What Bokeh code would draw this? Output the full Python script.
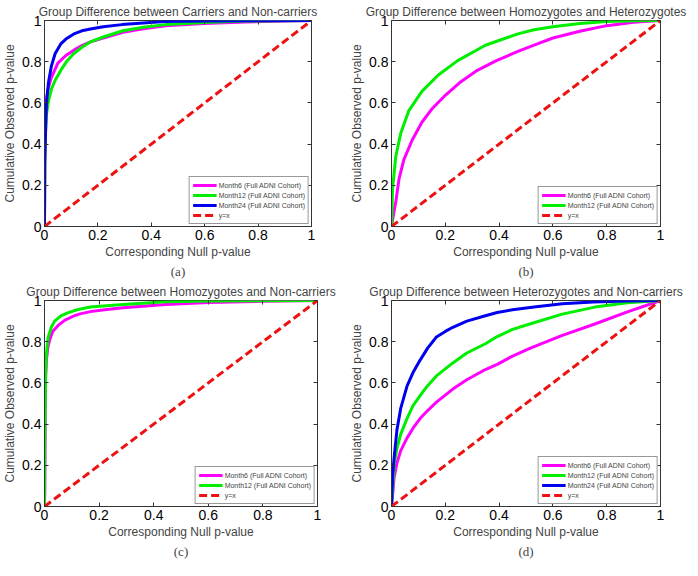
from bokeh.plotting import figure
from bokeh.layouts import column, row
from bokeh.models import Range1d, FixedTicker, LinearAxis, Title
from bokeh.embed import file_html
from bokeh.resources import INLINE

# ---------------- data ----------------
TICKS = [0, 0.2, 0.4, 0.6, 0.8, 1]
TICK_LABELS = ["0", "0.2", "0.4", "0.6", "0.8", "1"]
DIAG = [0, 1]

TITLES = [
    "Group Difference between Carriers and Non-carriers",
    "Group Difference between Homozygotes and Heterozygotes",
    "Group Difference between Homozygotes and Non-carriers",
    "Group Difference between Heterozygotes and Non-carriers",
]
CAPTIONS = ["(a)", "(b)", "(c)", "(d)"]
SERIES_NAMES = ["Month6 (Full ADNI Cohort)", "Month12 (Full ADNI Cohort)", "Month24 (Full ADNI Cohort)"]
DIAG_NAME = "y=x"
X_LABEL = "Corresponding Null p-value"
Y_LABEL = "Cumulative Observed p-value"

# panel (a)
A6_X = [0, 0.001, 0.004, 0.013, 0.025, 0.05, 0.08, 0.11, 0.14, 0.172, 0.22, 0.294, 0.37, 0.453, 0.6, 0.75, 0.9, 1]
A6_Y = [0, 0.45, 0.59, 0.667, 0.72, 0.793, 0.83, 0.856, 0.878, 0.896, 0.915, 0.943, 0.96, 0.975, 0.985, 0.993, 0.998, 1]
A12_X = [0, 0.001, 0.007, 0.015, 0.026, 0.04, 0.062, 0.085, 0.11, 0.14, 0.172, 0.22, 0.294, 0.37, 0.453, 0.6, 0.75, 1]
A12_Y = [0, 0.38, 0.54, 0.61, 0.667, 0.71, 0.76, 0.805, 0.84, 0.87, 0.896, 0.92, 0.95, 0.967, 0.98, 0.99, 0.997, 1]
A24_X = [0, 0.001, 0.004, 0.007, 0.015, 0.026, 0.04, 0.062, 0.08, 0.11, 0.14, 0.172, 0.22, 0.29, 0.45, 0.6, 1]
A24_Y = [0, 0.3, 0.46, 0.59, 0.70, 0.78, 0.84, 0.888, 0.91, 0.935, 0.95, 0.959, 0.97, 0.98, 0.995, 0.998, 1]

# panel (b)
B6_X = [0, 0.005, 0.016, 0.028, 0.046, 0.077, 0.113, 0.149, 0.2, 0.258, 0.319, 0.39, 0.47, 0.53, 0.6, 0.7, 0.8, 0.9, 1]
B6_Y = [0, 0.04, 0.12, 0.231, 0.325, 0.42, 0.506, 0.569, 0.637, 0.703, 0.758, 0.805, 0.85, 0.88, 0.915, 0.948, 0.975, 0.992, 1]
B12_X = [0, 0.004, 0.016, 0.034, 0.064, 0.113, 0.173, 0.246, 0.349, 0.47, 0.53, 0.6, 0.7, 0.8, 0.9, 1]
B12_Y = [0, 0.184, 0.341, 0.451, 0.561, 0.656, 0.734, 0.805, 0.88, 0.935, 0.955, 0.97, 0.985, 0.995, 0.999, 1]

# panel (c)
C6_X = [0, 0.001, 0.003, 0.007, 0.012, 0.019, 0.03, 0.049, 0.075, 0.109, 0.13, 0.168, 0.22, 0.288, 0.443, 0.6, 0.8, 1]
C6_Y = [0, 0.07, 0.6, 0.71, 0.77, 0.81, 0.85, 0.878, 0.905, 0.926, 0.935, 0.946, 0.955, 0.965, 0.981, 0.99, 0.996, 1]
C12_X = [0, 0.001, 0.004, 0.007, 0.013, 0.025, 0.037, 0.06, 0.085, 0.12, 0.168, 0.288, 0.443, 0.6, 1]
C12_Y = [0, 0.3, 0.635, 0.74, 0.82, 0.87, 0.90, 0.925, 0.94, 0.955, 0.968, 0.981, 0.994, 0.998, 1]

# panel (d)
D6_X = [0, 0.01, 0.02, 0.034, 0.058, 0.08, 0.107, 0.13, 0.167, 0.228, 0.28, 0.349, 0.393, 0.45, 0.514, 0.635, 0.756, 0.877, 1]
D6_Y = [0, 0.144, 0.21, 0.27, 0.333, 0.38, 0.428, 0.46, 0.507, 0.57, 0.615, 0.665, 0.69, 0.73, 0.768, 0.831, 0.886, 0.945, 1]
D12_X = [0, 0.01, 0.02, 0.034, 0.058, 0.08, 0.107, 0.13, 0.167, 0.228, 0.28, 0.349, 0.393, 0.45, 0.514, 0.635, 0.756, 0.877, 1]
D12_Y = [0, 0.207, 0.28, 0.35, 0.428, 0.49, 0.539, 0.58, 0.634, 0.697, 0.745, 0.79, 0.825, 0.86, 0.886, 0.934, 0.968, 0.989, 1]
D24_X = [0, 0.004, 0.01, 0.02, 0.034, 0.058, 0.08, 0.107, 0.135, 0.167, 0.2, 0.228, 0.28, 0.349, 0.393, 0.45, 0.53, 0.635, 0.75, 0.877, 1]
D24_Y = [0, 0.15, 0.24, 0.37, 0.475, 0.586, 0.65, 0.712, 0.77, 0.823, 0.85, 0.87, 0.9, 0.926, 0.942, 0.955, 0.968, 0.984, 0.993, 0.998, 1]

COLORS = ["#ff00ff", "#00ee00", "#0000ee"]
DIAG_COLOR = "#ee1111"

PANELS = [
    [(A6_X, A6_Y), (A12_X, A12_Y), (A24_X, A24_Y)],
    [(B6_X, B6_Y), (B12_X, B12_Y)],
    [(C6_X, C6_Y), (C12_X, C12_Y)],
    [(D6_X, D6_Y), (D12_X, D12_Y), (D24_X, D24_Y)],
]

# layout: (left border, frame width, title offset)
GEOM = [(38, 267, -4), (42, 269, -10), (38, 273, -4), (42, 269, -8)]
FIG_W = 341
TOP = 20
FRAME_H = 206
BOTTOM = 54

FONT = "Liberation Sans"
AX_COLOR = "#333333"


def make_panel(i):
    left, fw, toff = GEOM[i]
    right = FIG_W - left - fw
    p = figure(frame_width=fw, frame_height=FRAME_H,
               min_border_left=left, min_border_right=right,
               min_border_top=TOP, min_border_bottom=BOTTOM,
               x_range=Range1d(0, 1), y_range=Range1d(0, 1),
               toolbar_location=None, output_backend="svg",
               background_fill_color="white", border_fill_color="white")
    p.title.text = TITLES[i]
    p.title.text_font = FONT
    p.title.text_font_size = "12px"
    p.title.text_font_style = "normal"
    p.title.align = "center"
    p.title.standoff = 3
    p.title.offset = toff
    p.grid.visible = False
    p.outline_line_color = AX_COLOR
    p.outline_line_width = 1

    overrides = {t: s for t, s in zip(TICKS, TICK_LABELS)}
    for ax in (p.xaxis[0], p.yaxis[0]):
        ax.ticker = FixedTicker(ticks=TICKS)
        ax.major_label_overrides = overrides
        ax.major_tick_in = 4
        ax.major_tick_out = 0
        ax.minor_tick_in = 0
        ax.minor_tick_out = 0
        ax.axis_line_color = AX_COLOR
        ax.major_tick_line_color = AX_COLOR
        ax.major_label_text_font = FONT
        ax.major_label_text_font_size = "14px"
        ax.major_label_text_color = "black"
        ax.major_label_standoff = 3
        ax.axis_label_text_font = FONT
        ax.axis_label_text_font_size = "12px"
        ax.axis_label_text_font_style = "normal"
        ax.axis_label_standoff = 2
    p.xaxis.axis_label = X_LABEL
    p.yaxis.axis_label = Y_LABEL

    blank = {t: "" for t in TICKS}
    for loc in ("above", "right"):
        ax = LinearAxis(ticker=FixedTicker(ticks=TICKS))
        ax.major_label_overrides = blank
        ax.major_tick_in = 4
        ax.major_tick_out = 0
        ax.minor_tick_in = 0
        ax.minor_tick_out = 0
        ax.axis_line_color = None
        ax.major_tick_line_color = AX_COLOR
        ax.major_label_text_font_size = "1px"
        ax.major_label_standoff = 0
        p.add_layout(ax, loc)

    cap = Title(text=CAPTIONS[i], align="center", text_font="Liberation Serif",
                text_font_size="13px", text_font_style="normal", standoff=0, offset=0)
    p.add_layout(cap, "below")

    for k, (xs, ys) in enumerate(PANELS[i]):
        p.line(xs, ys, line_color=COLORS[k], line_width=3, legend_label=SERIES_NAMES[k])
    p.line(DIAG, DIAG, line_color=DIAG_COLOR, line_width=3, line_dash="8 4",
           legend_label=DIAG_NAME)

    lg = p.legend[0]
    lg.location = "bottom_right"
    lg.margin = 2
    lg.padding = 3
    lg.spacing = 0
    lg.label_text_font = FONT
    lg.label_text_font_size = "7px"
    lg.label_height = 10
    lg.glyph_height = 10
    lg.glyph_width = 24
    lg.label_standoff = 2
    lg.border_line_color = AX_COLOR
    lg.border_line_width = 1
    lg.background_fill_alpha = 1.0
    return p


figs = [make_panel(i) for i in range(4)]
layout = column(row(figs[0], figs[1]), row(figs[2], figs[3]))
open("out.html", "w").write(file_html(layout, INLINE))
